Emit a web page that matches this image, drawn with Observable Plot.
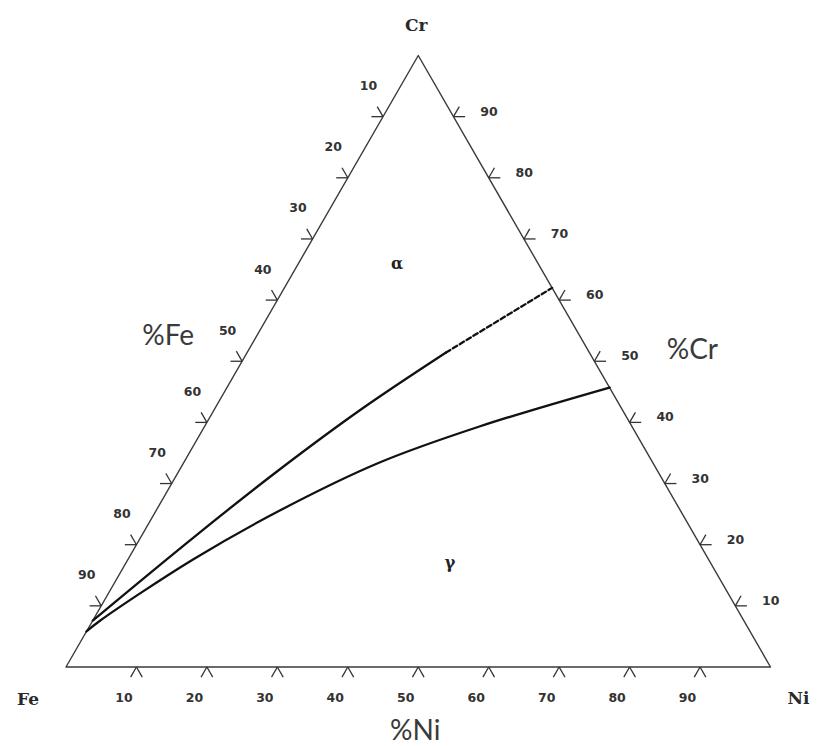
<!DOCTYPE html>
<html>
<head>
<meta charset="utf-8">
<script src="https://cdn.jsdelivr.net/npm/d3@7"></script>
<script src="https://cdn.jsdelivr.net/npm/@observablehq/plot@0.6"></script>
<style>
  html, body { margin: 0; padding: 0; background: #fff; }
  #chart { width: 823px; height: 746px; }
</style>
</head>
<body>
<div id="chart"></div>
<script>
// ---- data (compositions in %, Ni and Cr; Fe = 100 - Ni - Cr) ----
const vertexNames = ["Fe", "Ni", "Cr"];
const vertexNi = [0, 100, 0];
const vertexCr = [0, 0, 100];

const tickValues = [10, 20, 30, 40, 50, 60, 70, 80, 90];

// alpha / alpha+gamma boundary (solid part)
const upperNi = [0, 7.69, 14.17, 20.93, 28.23];
const upperCr = [7.6, 21.5, 32.3, 42.27, 51.43];
// extrapolated (dashed) part
const dashNi = [28.23, 38.0];
const dashCr = [51.43, 62.0];

// gamma / alpha+gamma boundary
const lowerNi = [0, 1.07, 9.24, 17.55, 27.79, 39.02, 54.3];
const lowerCr = [5.81, 7.6, 17.58, 25.59, 33.44, 39.33, 45.7];

const phaseLabels = ["α", "γ"];
const phaseNi = [14, 46];
const phaseCr = [66, 17];

const axisTitles = ["%Fe", "%Ni", "%Cr"];

// ---- ternary -> cartesian ----
const S = Math.sqrt(3) / 2;
const tx = (ni, cr) => (ni + cr / 2) / 100;
const ty = (ni, cr) => (cr * S) / 100;
const pts = (nis, crs) => nis.map((n, i) => ({x: tx(n, crs[i]), y: ty(n, crs[i])}));

const vertices = vertexNames.map((name, i) => ({name, x: tx(vertexNi[i], vertexCr[i]), y: ty(vertexNi[i], vertexCr[i])}));
const frame = [...vertices, vertices[0]];

const L = 0.0165; // tick leg length (unit triangle)
const ticks = [];
const labels = [];
// bottom edge: %Ni
tickValues.forEach(v => {
  const x = tx(v, 0), y = ty(v, 0);
  ticks.push({x1: x, y1: y, x2: x - L / 2, y2: y - L * S});
  ticks.push({x1: x, y1: y, x2: x + L / 2, y2: y - L * S});
  labels.push({side: "b", text: String(v), x, y});
});
// left edge: %Fe (Ni = 0, Cr = 100 - Fe)
tickValues.forEach(v => {
  const x = tx(0, 100 - v), y = ty(0, 100 - v);
  ticks.push({x1: x, y1: y, x2: x - L, y2: y});
  ticks.push({x1: x, y1: y, x2: x - L / 2, y2: y + L * S});
  labels.push({side: "l", text: String(v), x, y});
});
// right edge: %Cr (Ni = 100 - Cr)
tickValues.forEach(v => {
  const x = tx(100 - v, v), y = ty(100 - v, v);
  ticks.push({x1: x, y1: y, x2: x + L, y2: y});
  ticks.push({x1: x, y1: y, x2: x + L / 2, y2: y + L * S});
  labels.push({side: "r", text: String(v), x, y});
});

// edge midpoints for axis titles: left (Fe-Cr), bottom (Fe-Ni), right (Ni-Cr)
const mids = [
  {text: axisTitles[0], x: tx(0, 50), y: ty(0, 50), dx: -74, dy: -25},
  {text: axisTitles[1], x: tx(50, 0), y: ty(50, 0), dx: -3, dy: 64},
  {text: axisTitles[2], x: tx(50, 50), y: ty(50, 50), dx: 98, dy: -11}
];

const vOff = {Fe: [-38, 33], Ni: [28, 32], Cr: [-2, -30]};
const lOff = {b: [-12.5, 31], l: [-14.5, -30.5], r: [35.5, -5]};

const tickFont = "DejaVu Sans";
const chart = Plot.plot({
  width: 823,
  height: 746,
  margin: 0,
  x: {domain: [0, 1], range: [65.5, 770], axis: null},
  y: {domain: [0, S], range: [666.5, 55], axis: null},
  marks: [
    Plot.line(frame, {x: "x", y: "y", stroke: "#3a3a3a", strokeWidth: 1.4}),
    Plot.link(ticks, {x1: "x1", y1: "y1", x2: "x2", y2: "y2", stroke: "#333", strokeWidth: 1.3}),
    Plot.line(pts(upperNi, upperCr), {x: "x", y: "y", curve: "catmull-rom", stroke: "#111", strokeWidth: 2.3}),
    Plot.line(pts(dashNi, dashCr), {x: "x", y: "y", stroke: "#111", strokeWidth: 2.3, strokeDasharray: "5,3"}),
    Plot.line(pts(lowerNi, lowerCr), {x: "x", y: "y", curve: "catmull-rom", stroke: "#111", strokeWidth: 2.3}),
    ...["b", "l", "r"].map(s => Plot.text(labels.filter(d => d.side === s), {
      x: "x", y: "y", text: "text", dx: lOff[s][0], dy: lOff[s][1],
      fontFamily: tickFont, fontWeight: "bold", fontSize: 12.5, fill: "#333"
    })),
    ...vertices.map(v => Plot.text([v], {
      x: "x", y: "y", text: "name", dx: vOff[v.name][0], dy: vOff[v.name][1],
      fontFamily: "DejaVu Serif", fontWeight: "bold", fontSize: 17, fill: "#2a2a2a"
    })),
    ...mids.map(m => Plot.text([m], {
      x: "x", y: "y", text: "text", dx: m.dx, dy: m.dy,
      fontFamily: "Lato", fontSize: 28, fill: "#3a3a3a"
    })),
    Plot.text(phaseLabels.map((t, i) => ({t, x: tx(phaseNi[i], phaseCr[i]), y: ty(phaseNi[i], phaseCr[i])})), {
      x: "x", y: "y", text: "t", fontFamily: "DejaVu Serif", fontWeight: "bold", fontSize: 16, fill: "#222"
    })
  ]
});
document.getElementById("chart").appendChild(chart);
</script>
</body>
</html>
